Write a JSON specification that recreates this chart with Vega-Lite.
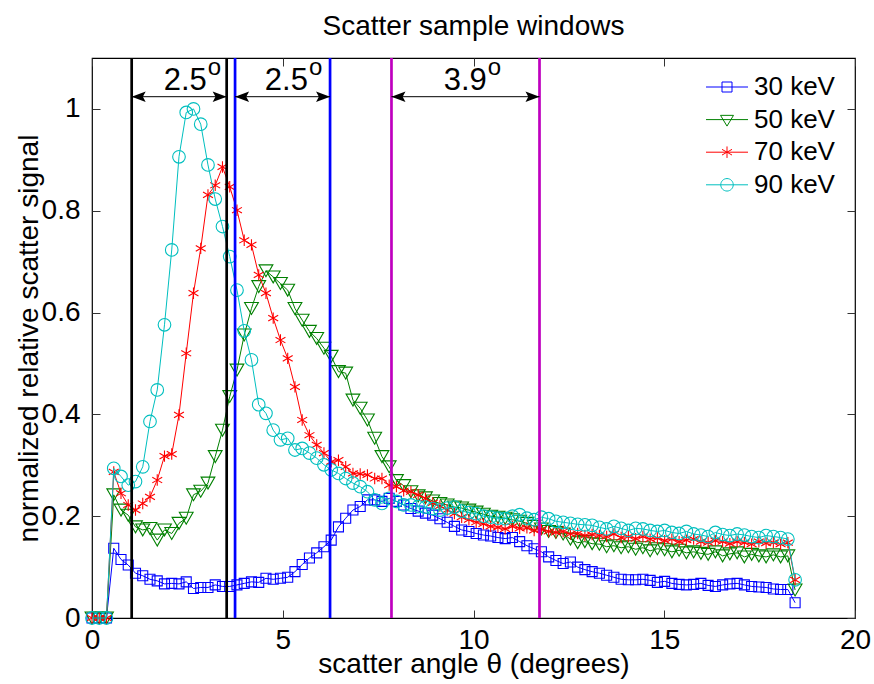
{
  "$schema": "https://vega.github.io/schema/vega-lite/v6.json",
  "width": 763,
  "height": 560,
  "autosize": {"type": "none"},
  "padding": {"left": 92, "top": 58, "right": 19, "bottom": 66},
  "background": "white",
  "title": {"text": "Scatter sample windows", "fontSize": 28, "font": "Liberation Sans", "fontWeight": "normal", "color": "black", "anchor": "middle", "baseline": "alphabetic", "offset": -7},
  "config": {
    "view": {"stroke": "black", "strokeWidth": 1.2},
    "axis": {"labelFont": "Liberation Sans", "labelFontSize": 28, "labelColor": "black", "titleFont": "Liberation Sans", "titleFontSize": 28, "titleFontWeight": "normal", "titleColor": "black", "tickSize": -8, "tickColor": "#333", "domain": false, "grid": false, "labelFlush": false, "labelOverlap": false},
    "legend": {"labelFontSize": 26, "labelFont": "Liberation Sans", "labelColor": "black", "symbolSize": 100, "symbolStrokeWidth": 1, "padding": 0, "rowPadding": 6.6, "labelOffset": 14}
  },
  "resolve": {"axis": {"x": "independent", "y": "independent"}},
  "datasets": {
    "series": [
      {"x":0,"30 keV":0,"50 keV":0,"70 keV":0,"90 keV":0},
      {"x":0.19,"30 keV":0,"50 keV":0,"70 keV":0,"90 keV":0},
      {"x":0.38,"30 keV":0,"50 keV":0,"70 keV":0,"90 keV":0},
      {"x":0.57,"30 keV":0.137,"50 keV":0.242,"70 keV":0.287,"90 keV":0.294},
      {"x":0.76,"30 keV":0.115,"50 keV":0.212,"70 keV":0.245,"90 keV":0.278},
      {"x":0.95,"30 keV":0.104,"50 keV":0.202,"70 keV":0.222,"90 keV":0.261},
      {"x":1.14,"30 keV":0.088,"50 keV":0.179,"70 keV":0.212,"90 keV":0.268},
      {"x":1.33,"30 keV":0.083,"50 keV":0.173,"70 keV":0.225,"90 keV":0.297},
      {"x":1.52,"30 keV":0.076,"50 keV":0.176,"70 keV":0.238,"90 keV":0.386},
      {"x":1.71,"30 keV":0.073,"50 keV":0.153,"70 keV":0.271,"90 keV":0.448},
      {"x":1.9,"30 keV":0.067,"50 keV":0.173,"70 keV":0.318,"90 keV":0.576},
      {"x":2.09,"30 keV":0.068,"50 keV":0.166,"70 keV":0.322,"90 keV":0.723},
      {"x":2.28,"30 keV":0.067,"50 keV":0.186,"70 keV":0.399,"90 keV":0.906},
      {"x":2.47,"30 keV":0.071,"50 keV":0.196,"70 keV":0.52,"90 keV":0.993},
      {"x":2.66,"30 keV":0.058,"50 keV":0.242,"70 keV":0.638,"90 keV":1.0},
      {"x":2.85,"30 keV":0.06,"50 keV":0.249,"70 keV":0.726,"90 keV":0.97},
      {"x":3.04,"30 keV":0.06,"50 keV":0.265,"70 keV":0.831,"90 keV":0.89},
      {"x":3.23,"30 keV":0.065,"50 keV":0.317,"70 keV":0.85,"90 keV":0.823},
      {"x":3.42,"30 keV":0.062,"50 keV":0.369,"70 keV":0.886,"90 keV":0.769},
      {"x":3.61,"30 keV":0.062,"50 keV":0.435,"70 keV":0.847,"90 keV":0.71},
      {"x":3.8,"30 keV":0.065,"50 keV":0.487,"70 keV":0.801,"90 keV":0.644},
      {"x":3.99,"30 keV":0.068,"50 keV":0.556,"70 keV":0.742,"90 keV":0.564},
      {"x":4.18,"30 keV":0.071,"50 keV":0.608,"70 keV":0.733,"90 keV":0.507},
      {"x":4.37,"30 keV":0.07,"50 keV":0.651,"70 keV":0.674,"90 keV":0.419},
      {"x":4.56,"30 keV":0.078,"50 keV":0.682,"70 keV":0.638,"90 keV":0.402},
      {"x":4.75,"30 keV":0.076,"50 keV":0.67,"70 keV":0.589,"90 keV":0.369},
      {"x":4.94,"30 keV":0.078,"50 keV":0.657,"70 keV":0.546,"90 keV":0.35},
      {"x":5.13,"30 keV":0.08,"50 keV":0.644,"70 keV":0.51,"90 keV":0.353},
      {"x":5.32,"30 keV":0.091,"50 keV":0.608,"70 keV":0.454,"90 keV":0.33},
      {"x":5.51,"30 keV":0.105,"50 keV":0.585,"70 keV":0.389,"90 keV":0.333},
      {"x":5.7,"30 keV":0.118,"50 keV":0.563,"70 keV":0.359,"90 keV":0.324},
      {"x":5.89,"30 keV":0.128,"50 keV":0.549,"70 keV":0.34,"90 keV":0.314},
      {"x":6.08,"30 keV":0.14,"50 keV":0.53,"70 keV":0.324,"90 keV":0.301},
      {"x":6.27,"30 keV":0.153,"50 keV":0.514,"70 keV":0.307,"90 keV":0.291},
      {"x":6.46,"30 keV":0.179,"50 keV":0.484,"70 keV":0.31,"90 keV":0.284},
      {"x":6.65,"30 keV":0.196,"50 keV":0.481,"70 keV":0.297,"90 keV":0.274},
      {"x":6.84,"30 keV":0.212,"50 keV":0.428,"70 keV":0.284,"90 keV":0.265},
      {"x":7.03,"30 keV":0.219,"50 keV":0.412,"70 keV":0.283,"90 keV":0.258},
      {"x":7.22,"30 keV":0.232,"50 keV":0.389,"70 keV":0.281,"90 keV":0.248},
      {"x":7.41,"30 keV":0.232,"50 keV":0.353,"70 keV":0.274,"90 keV":0.232},
      {"x":7.6,"30 keV":0.229,"50 keV":0.317,"70 keV":0.274,"90 keV":0.225},
      {"x":7.79,"30 keV":0.235,"50 keV":0.297,"70 keV":0.261,"90 keV":0.235},
      {"x":7.98,"30 keV":0.229,"50 keV":0.27,"70 keV":0.258,"90 keV":0.229},
      {"x":8.17,"30 keV":0.222,"50 keV":0.26,"70 keV":0.25,"90 keV":0.222},
      {"x":8.36,"30 keV":0.215,"50 keV":0.248,"70 keV":0.248,"90 keV":0.222},
      {"x":8.55,"30 keV":0.21,"50 keV":0.24,"70 keV":0.242,"90 keV":0.219},
      {"x":8.74,"30 keV":0.206,"50 keV":0.236,"70 keV":0.235,"90 keV":0.218},
      {"x":8.93,"30 keV":0.202,"50 keV":0.23,"70 keV":0.226,"90 keV":0.215},
      {"x":9.12,"30 keV":0.195,"50 keV":0.225,"70 keV":0.22,"90 keV":0.212},
      {"x":9.31,"30 keV":0.188,"50 keV":0.222,"70 keV":0.212,"90 keV":0.216},
      {"x":9.5,"30 keV":0.18,"50 keV":0.218,"70 keV":0.205,"90 keV":0.218},
      {"x":9.69,"30 keV":0.173,"50 keV":0.216,"70 keV":0.198,"90 keV":0.21},
      {"x":9.88,"30 keV":0.17,"50 keV":0.212,"70 keV":0.193,"90 keV":0.207},
      {"x":10.07,"30 keV":0.166,"50 keV":0.208,"70 keV":0.188,"90 keV":0.205},
      {"x":10.26,"30 keV":0.163,"50 keV":0.204,"70 keV":0.185,"90 keV":0.2},
      {"x":10.45,"30 keV":0.161,"50 keV":0.2,"70 keV":0.18,"90 keV":0.198},
      {"x":10.64,"30 keV":0.158,"50 keV":0.198,"70 keV":0.178,"90 keV":0.196},
      {"x":10.83,"30 keV":0.156,"50 keV":0.196,"70 keV":0.175,"90 keV":0.195},
      {"x":11.02,"30 keV":0.158,"50 keV":0.193,"70 keV":0.18,"90 keV":0.2},
      {"x":11.21,"30 keV":0.15,"50 keV":0.19,"70 keV":0.176,"90 keV":0.203},
      {"x":11.4,"30 keV":0.142,"50 keV":0.186,"70 keV":0.177,"90 keV":0.196},
      {"x":11.59,"30 keV":0.136,"50 keV":0.18,"70 keV":0.172,"90 keV":0.193},
      {"x":11.78,"30 keV":0.13,"50 keV":0.175,"70 keV":0.174,"90 keV":0.198},
      {"x":11.97,"30 keV":0.12,"50 keV":0.17,"70 keV":0.17,"90 keV":0.195},
      {"x":12.16,"30 keV":0.113,"50 keV":0.168,"70 keV":0.168,"90 keV":0.19},
      {"x":12.35,"30 keV":0.107,"50 keV":0.165,"70 keV":0.17,"90 keV":0.188},
      {"x":12.54,"30 keV":0.11,"50 keV":0.155,"70 keV":0.165,"90 keV":0.186},
      {"x":12.73,"30 keV":0.1,"50 keV":0.148,"70 keV":0.166,"90 keV":0.184},
      {"x":12.92,"30 keV":0.095,"50 keV":0.15,"70 keV":0.162,"90 keV":0.183},
      {"x":13.11,"30 keV":0.091,"50 keV":0.146,"70 keV":0.164,"90 keV":0.182},
      {"x":13.3,"30 keV":0.088,"50 keV":0.145,"70 keV":0.162,"90 keV":0.178},
      {"x":13.49,"30 keV":0.084,"50 keV":0.14,"70 keV":0.16,"90 keV":0.175},
      {"x":13.68,"30 keV":0.08,"50 keV":0.142,"70 keV":0.165,"90 keV":0.18},
      {"x":13.87,"30 keV":0.076,"50 keV":0.138,"70 keV":0.158,"90 keV":0.176},
      {"x":14.06,"30 keV":0.075,"50 keV":0.14,"70 keV":0.16,"90 keV":0.172},
      {"x":14.25,"30 keV":0.075,"50 keV":0.135,"70 keV":0.156,"90 keV":0.176},
      {"x":14.44,"30 keV":0.076,"50 keV":0.138,"70 keV":0.16,"90 keV":0.175},
      {"x":14.63,"30 keV":0.074,"50 keV":0.132,"70 keV":0.155,"90 keV":0.172},
      {"x":14.82,"30 keV":0.07,"50 keV":0.136,"70 keV":0.157,"90 keV":0.17},
      {"x":15.01,"30 keV":0.072,"50 keV":0.134,"70 keV":0.152,"90 keV":0.172},
      {"x":15.2,"30 keV":0.068,"50 keV":0.13,"70 keV":0.155,"90 keV":0.168},
      {"x":15.39,"30 keV":0.066,"50 keV":0.133,"70 keV":0.15,"90 keV":0.166},
      {"x":15.58,"30 keV":0.065,"50 keV":0.128,"70 keV":0.153,"90 keV":0.17},
      {"x":15.77,"30 keV":0.066,"50 keV":0.13,"70 keV":0.155,"90 keV":0.165},
      {"x":15.96,"30 keV":0.068,"50 keV":0.127,"70 keV":0.15,"90 keV":0.163},
      {"x":16.15,"30 keV":0.064,"50 keV":0.125,"70 keV":0.148,"90 keV":0.16},
      {"x":16.34,"30 keV":0.062,"50 keV":0.13,"70 keV":0.152,"90 keV":0.168},
      {"x":16.53,"30 keV":0.065,"50 keV":0.122,"70 keV":0.15,"90 keV":0.164},
      {"x":16.72,"30 keV":0.067,"50 keV":0.126,"70 keV":0.146,"90 keV":0.162},
      {"x":16.91,"30 keV":0.068,"50 keV":0.128,"70 keV":0.15,"90 keV":0.165},
      {"x":17.1,"30 keV":0.065,"50 keV":0.12,"70 keV":0.148,"90 keV":0.163},
      {"x":17.29,"30 keV":0.062,"50 keV":0.125,"70 keV":0.145,"90 keV":0.16},
      {"x":17.48,"30 keV":0.061,"50 keV":0.122,"70 keV":0.15,"90 keV":0.158},
      {"x":17.67,"30 keV":0.06,"50 keV":0.12,"70 keV":0.147,"90 keV":0.162},
      {"x":17.86,"30 keV":0.057,"50 keV":0.124,"70 keV":0.148,"90 keV":0.16},
      {"x":18.05,"30 keV":0.056,"50 keV":0.12,"70 keV":0.145,"90 keV":0.158},
      {"x":18.24,"30 keV":0.056,"50 keV":0.122,"70 keV":0.148,"90 keV":0.155},
      {"x":18.43,"30 keV":0.03,"50 keV":0.055,"70 keV":0.075,"90 keV":0.075}
    ],
    "windows": [
      {"x": 1.04, "w": "a"}, {"x": 3.53, "w": "a"},
      {"x": 3.75, "w": "b"}, {"x": 6.24, "w": "b"},
      {"x": 7.85, "w": "c"}, {"x": 11.73, "w": "c"}
    ],
    "arrows": [
      {"x1": 1.04, "x2": 3.53, "y": 1.024, "label": "2.5", "lx": 3.01, "ty": 1.037, "oy": 1.067},
      {"x1": 3.75, "x2": 6.24, "y": 1.024, "label": "2.5", "lx": 5.66, "ty": 1.037, "oy": 1.067},
      {"x1": 7.85, "x2": 11.73, "y": 1.024, "label": "3.9", "lx": 10.35, "ty": 1.037, "oy": 1.067}
    ]
  },
  "layer": [
    {
      "data": {"name": "series"},
      "transform": [{"fold": ["30 keV", "50 keV", "70 keV", "90 keV"]}, {"filter": "datum.key === '30 keV'"}],
      "mark": {"type": "line", "strokeWidth": 1, "point": {"shape": "square", "filled": false, "size": 100, "strokeWidth": 1.1}},
      "encoding": {
        "x": {"field": "x", "type": "quantitative", "scale": {"domain": [0, 20], "nice": false}, "axis": {"orient": "bottom", "values": [0, 5, 10, 15, 20], "format": "d", "labelPadding": 16, "title": "scatter angle θ (degrees)", "titlePadding": -4}},
        "y": {"field": "value", "type": "quantitative", "scale": {"domain": [0, 1.1], "nice": false}, "axis": {"orient": "left", "values": [0, 0.2, 0.4, 0.6, 0.8, 1], "format": ".1~f", "labelPadding": 20, "title": "normalized relative scatter signal", "titlePadding": -2}},
        "color": {"field": "key", "type": "nominal", "scale": {"domain": ["30 keV", "50 keV", "70 keV", "90 keV"], "range": ["#0000ff", "#008000", "#ff0000", "#00bfbf"]},
          "legend": {"orient": "none", "legendX": 622, "legendY": 16, "title": null, "symbolSize": 100, "labelOffset": 14, "rowPadding": 6.6, "padding": 0, "labelFontSize": 26, "labelFont": "Liberation Sans", "labelColor": "black", "symbolStrokeWidth": 1,
            "encode": {"symbols": {"update": {"shape": {"signal": "datum.value === '30 keV' ? 'M-4.2,0H4.2M-1,-1H1V1H-1Z' : datum.value === '50 keV' ? 'M-4.2,0H4.2M-1.3,-0.85H1.3L0,1.3Z' : datum.value === '70 keV' ? 'M-4.2,0H4.2M0,-1.15V1.15M-1,-0.57L1,0.57M-1,0.57L1,-0.57' : 'M-4.2,0H4.2M-1.25,0A1.25,1.25,0,1,1,1.25,0A1.25,1.25,0,1,1,-1.25,0Z'"}, "fill": {"value": "transparent"}, "strokeWidth": {"value": 1}}}, "labels": {"update": {"fontSize": {"value": 26}}}}}
        }
      }
    },
    {
      "data": {"name": "series"},
      "transform": [{"fold": ["30 keV", "50 keV", "70 keV", "90 keV"]}, {"filter": "datum.key === '50 keV'"}],
      "mark": {"type": "line", "strokeWidth": 1, "point": {"shape": "triangle-down", "filled": false, "size": 190, "strokeWidth": 1.1}},
      "encoding": {
        "x": {"field": "x", "type": "quantitative", "axis": null},
        "y": {"field": "value", "type": "quantitative", "axis": null},
        "color": {"field": "key", "type": "nominal"}
      }
    },
    {
      "data": {"name": "series"},
      "transform": [{"fold": ["30 keV", "50 keV", "70 keV", "90 keV"]}, {"filter": "datum.key === '70 keV'"}],
      "mark": {"type": "line", "strokeWidth": 1, "point": {"shape": "M0,-1V1M-0.87,-0.5L0.87,0.5M-0.87,0.5L0.87,-0.5", "filled": false, "size": 130, "strokeWidth": 1.1}},
      "encoding": {
        "x": {"field": "x", "type": "quantitative", "axis": null},
        "y": {"field": "value", "type": "quantitative", "axis": null},
        "color": {"field": "key", "type": "nominal"}
      }
    },
    {
      "data": {"name": "series"},
      "transform": [{"fold": ["30 keV", "50 keV", "70 keV", "90 keV"]}, {"filter": "datum.key === '90 keV'"}],
      "mark": {"type": "line", "strokeWidth": 1, "point": {"shape": "circle", "filled": false, "size": 160, "strokeWidth": 1.1}},
      "encoding": {
        "x": {"field": "x", "type": "quantitative", "axis": null},
        "y": {"field": "value", "type": "quantitative", "axis": null},
        "color": {"field": "key", "type": "nominal"}
      }
    },
    {
      "data": {"name": "windows"},
      "mark": {"type": "rule", "strokeWidth": 2.7},
      "encoding": {
        "x": {"field": "x", "type": "quantitative", "axis": {"orient": "top", "labels": false, "title": null, "values": [0, 5, 10, 15, 20]}},
        "stroke": {"field": "w", "type": "nominal", "scale": {"domain": ["a", "b", "c"], "range": ["#000000", "#0000ff", "#bf00bf"]}, "legend": null}
      }
    },
    {
      "data": {"name": "arrows"},
      "mark": {"type": "rule", "strokeWidth": 1, "color": "black"},
      "encoding": {
        "x": {"field": "x1", "type": "quantitative", "axis": null},
        "x2": {"field": "x2"},
        "y": {"field": "y", "type": "quantitative", "axis": {"orient": "right", "labels": false, "title": null, "values": [0, 0.2, 0.4, 0.6, 0.8, 1]}}
      }
    },
    {
      "data": {"name": "arrows"},
      "mark": {"type": "point", "shape": "M0,0L2,-0.75L1.6,0L2,0.75Z", "filled": true, "color": "black", "size": 196, "opacity": 1},
      "encoding": {
        "x": {"field": "x1", "type": "quantitative", "axis": null},
        "y": {"field": "y", "type": "quantitative", "axis": null}
      }
    },
    {
      "data": {"name": "arrows"},
      "mark": {"type": "point", "shape": "M0,0L-2,-0.75L-1.6,0L-2,0.75Z", "filled": true, "color": "black", "size": 196, "opacity": 1},
      "encoding": {
        "x": {"field": "x2", "type": "quantitative", "axis": null},
        "y": {"field": "y", "type": "quantitative", "axis": null}
      }
    },
    {
      "data": {"name": "arrows"},
      "mark": {"type": "text", "align": "right", "baseline": "alphabetic", "font": "Liberation Sans", "fontSize": 31, "color": "black"},
      "encoding": {
        "x": {"field": "lx", "type": "quantitative", "axis": null},
        "y": {"field": "ty", "type": "quantitative", "axis": null},
        "text": {"field": "label"}
      }
    },
    {
      "data": {"name": "arrows"},
      "mark": {"type": "text", "align": "left", "baseline": "alphabetic", "font": "Liberation Sans", "fontSize": 24, "color": "black", "dx": 1},
      "encoding": {
        "x": {"field": "lx", "type": "quantitative", "axis": null},
        "y": {"field": "oy", "type": "quantitative", "axis": null},
        "text": {"value": "o"}
      }
    }
  ]
}
